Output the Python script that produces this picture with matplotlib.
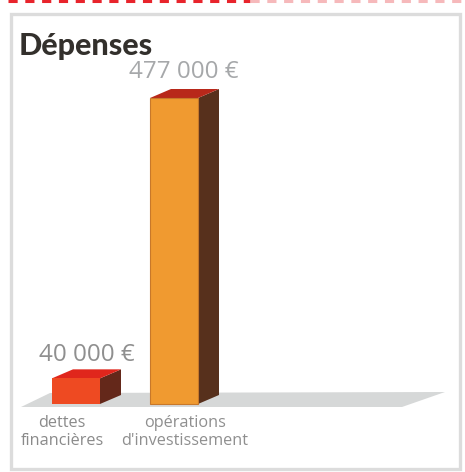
import matplotlib
matplotlib.use("Agg")
import matplotlib.pyplot as plt
from matplotlib.patches import Polygon, Rectangle

categories = ["dettes\nfinancières", "opérations\nd'investissement"]
values = [40000, 477000]
value_labels = ["40 000 €", "477 000 €"]
title = "Dépenses"
front_colors = ["#ee4a22", "#f09a30"]
top_colors = ["#e0261c", "#b8281a"]
side_colors = ["#64281a", "#57301c"]

W, H = 465, 472
fig = plt.figure(figsize=(W / 100, H / 100), dpi=100, facecolor="white")
ax = fig.add_axes([0, 0, 1, 1])

px_x = 98.0                 # pixels per category
px_y = 306.0 / 477000       # pixels per euro
x0, base = 76.0, 404.0
ax.set_xlim(-x0 / px_x, (W - x0) / px_x)
ax.set_ylim(-(H - base) / px_y, base / px_y)
ax.axis("off")

def X(p):
    return (p - x0) / px_x

def Y(p):
    return (base - p) / px_y

# remains of the cropped heading along the top edge
ax.plot([X(8), X(250)], [Y(1), Y(1)], color="#e8242c", lw=2.2, ls=(0, (3, 2.5)), zorder=1)
ax.plot([X(250), X(465)], [Y(1), Y(1)], color="#f6b9bb", lw=2.2, ls=(0, (3, 2.5)), zorder=1)

# frame
ax.add_patch(Rectangle((X(11), Y(469)), 449 / px_x, 455 / px_y, fill=False,
                       ec="#dcdcdc", lw=2.4, zorder=1))

# floor
ax.add_patch(Polygon([(X(21), Y(407)), (X(50), Y(393)), (X(445), Y(392)), (X(402), Y(407))],
                     fc="#d6d8d8", ec="none", zorder=2))

width = 48 / px_x
dx = 21 / px_x
dy = 9 / px_y
label_x = [87, 184]
label_y = [355, 72]
cat_x = [62, 185]
for i, v in enumerate(values):
    l = i - width / 2
    r = i + width / 2
    ax.add_patch(Polygon([(r, 0), (r + dx, dy), (r + dx, v + dy), (r, v)],
                         fc=side_colors[i], ec="none", zorder=3))
    ax.add_patch(Polygon([(l, v), (l + dx, v + dy), (r + dx, v + dy), (r, v)],
                         fc=top_colors[i], ec="none", zorder=3))
    ax.bar(i, v, width=width, color=front_colors[i], edgecolor="#c8782a" if i else "none",
           linewidth=0.8, zorder=4)
    ax.text(X(label_x[i]), Y(label_y[i]), value_labels[i], ha="center", va="center",
            color="#8f8f8f" if i == 0 else "#a6a8aa",
            fontsize=17.5, family="Open Sans", zorder=5)
    ax.text(X(cat_x[i]), Y(432), categories[i], ha="center", va="center",
            color="#8a8a8a" if i == 0 else "#8f8f8f", fontsize=11.7, family="Open Sans",
            linespacing=1.1, zorder=5)

ax.text(X(19), Y(46), title, ha="left", va="center", color="#33302c",
        fontsize=22, fontweight="black", family=["Lato", "Liberation Sans"], zorder=5)

fig.savefig("out.png", dpi=100, facecolor="white")
